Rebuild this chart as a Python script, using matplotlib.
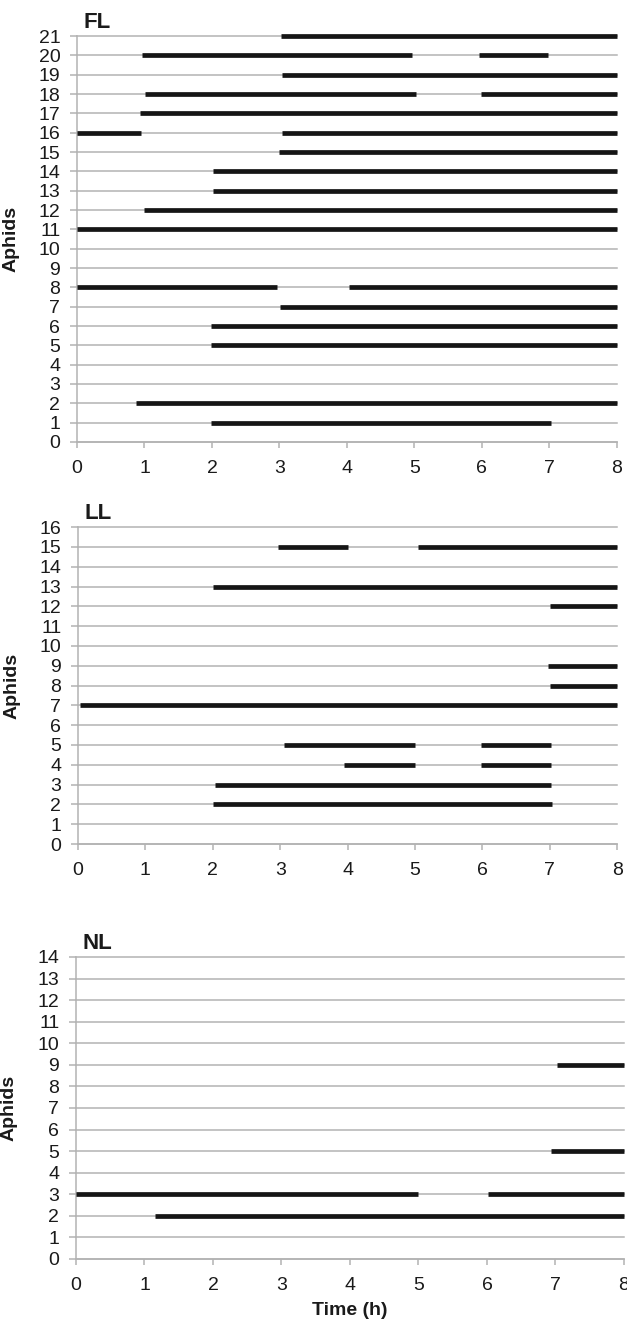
import matplotlib
matplotlib.use('Agg')
import matplotlib.pyplot as plt

plt.rcParams['font.family'] = ['Liberation Sans', 'DejaVu Sans']

# feeding periods per aphid: (aphid, start h, end h)
fl_aphid = [21, 20, 20, 19, 18, 18, 17, 16, 16, 15, 14, 13, 12, 11, 8, 8, 7, 6, 5, 2, 1]
fl_start = [3.03, 0.96, 5.96, 3.04, 1.01, 5.99, 0.93, 0.0, 3.04, 3.0, 2.01, 2.01, 0.99, 0.0, 0.0, 4.03, 3.01, 1.99, 1.99, 0.88, 1.98]
fl_end = [8, 4.97, 6.98, 8, 5.02, 8, 8, 0.95, 8, 8, 8, 8, 8, 8, 2.97, 8, 8, 8, 8, 8, 7.03]

ll_aphid = [15, 15, 13, 12, 9, 8, 7, 5, 5, 4, 4, 3, 2]
ll_start = [2.97, 5.04, 2.01, 7.01, 6.97, 7.01, 0.03, 3.06, 5.98, 3.95, 5.98, 2.03, 2.0]
ll_end = [4.01, 8, 8, 8, 8, 8, 8, 5.0, 7.02, 5.0, 7.02, 7.02, 7.03]

nl_aphid = [9, 5, 3, 3, 2]
nl_start = [7.02, 6.94, 0.0, 6.02, 1.16]
nl_end = [8, 8, 5.0, 8, 8]

panels = [
    ('FL', 21, fl_aphid, fl_start, fl_end),
    ('LL', 16, ll_aphid, ll_start, ll_end),
    ('NL', 14, nl_aphid, nl_start, nl_end),
]

# axes boxes in figure fractions
boxes = [
    [0.1228, 0.6649, 0.861, 0.3078],
    [0.1244, 0.3601, 0.860, 0.2403],
    [0.1212, 0.0455, 0.874, 0.2290],
]

grey = '#b3b3b3'
fig = plt.figure(figsize=(6.27, 13.19), dpi=100)

for (name, ymax, aphid, start, end), box in zip(panels, boxes):
    ax = fig.add_axes(box)
    bars = ax.hlines(aphid, start, end, colors='#151515', linewidth=3.4, zorder=3)
    bars.set_clip_on(False)
    ax.set_xlim(0, 8)
    ax.set_ylim(0, ymax)
    ax.set_xticks(range(9))
    ax.set_yticks(range(ymax + 1))
    ax.grid(axis='y', color=grey, linewidth=1.1)
    for gl in ax.get_ygridlines():
        gl.set_clip_on(False)
    for s in ['top', 'right']:
        ax.spines[s].set_visible(False)
    for s in ['left', 'bottom']:
        ax.spines[s].set_color(grey)
        ax.spines[s].set_linewidth(1.1)
    ax.tick_params(axis='y', length=5, width=1.1, color=grey, pad=7, labelsize=14, labelcolor='#1a1a1a')
    ax.tick_params(axis='x', length=4, width=1.1, color=grey, pad=9, labelsize=14, labelcolor='#1a1a1a')
    ax.set_ylabel('Aphids', fontsize=14, fontweight='bold', color='#1a1a1a')
    ax.yaxis.set_label_coords(-0.106, 0.5)
    ax.annotate(name, xy=(0, 1), xycoords='axes fraction', xytext=(5, 2),
                textcoords='offset points', ha='left', va='bottom',
                fontsize=16, fontweight='bold', color='#1a1a1a',
                family=['Liberation Sans Narrow', 'Liberation Sans'])

ax.set_xlabel('Time (h)', fontsize=14, fontweight='bold', color='#1a1a1a', labelpad=6)

fig.savefig('out.png', dpi=100)
